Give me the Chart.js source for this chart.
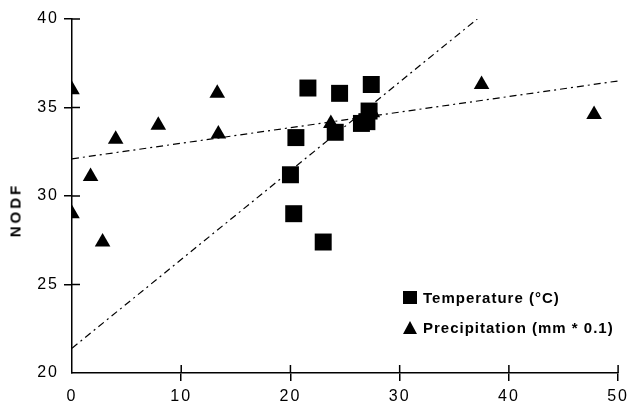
<!DOCTYPE html>
<html>
<head>
<meta charset="utf-8">
<script src="https://cdn.jsdelivr.net/npm/chart.js@4.4.1/dist/chart.umd.min.js"></script>
<style>
    body { margin: 0; background: #fff; }
    #wrap { position: relative; width: 633px; height: 407px; font-family: "Liberation Sans", Arial, sans-serif; }
    #ytitle {
        position: absolute; left: 15px; top: 210px;
        transform: translate(-50%, -50%) rotate(-90deg);
        font-weight: bold; font-size: 15px; letter-spacing: 3px; color: #000; white-space: nowrap;
    }
    .leg { position: absolute; left: 403px; height: 16px; display: flex; align-items: center; }
    .leg span { font-weight: bold; font-size: 15px; letter-spacing: 1px; color: #000; margin-left: 6px; white-space: nowrap; }
    .sq { width: 14px; height: 13px; background: #000; }
    .tri { width: 0; height: 0; border-left: 7px solid transparent; border-right: 7px solid transparent; border-bottom: 13px solid #000; }
</style>
</head>
<body>
<div id="wrap">
    <canvas id="chart" width="633" height="407"></canvas>
    <div id="ytitle">NODF</div>
    <div class="leg" style="top:289px;"><div class="sq"></div><span>Temperature (°C)</span></div>
    <div class="leg" style="top:319px;"><div class="tri"></div><span>Precipitation (mm * 0.1)</span></div>
</div>
<script>
// datos
const tempX = [20.0, 20.3, 20.5, 21.6, 23.0, 24.1, 24.5, 26.5, 27.0, 27.2, 27.4];
const tempY = [31.2, 29.0, 33.3, 36.1, 27.4, 33.6, 35.8, 34.1, 34.2, 34.8, 36.3];

const precX = [0, 0, 1.7, 2.8, 4.0, 7.9, 13.3, 13.4, 23.7, 27.5, 37.5, 47.8];
const precY = [36.0, 29.0, 31.1, 27.4, 33.2, 34.0, 35.8, 33.5, 34.1, 34.7, 36.3, 34.6];

// rectas de ajuste (extremos)
const tempFitX = [0, 37.1];
const tempFitY = [21.4, 40];
const precFitX = [0, 50];
const precFitY = [32.1, 36.5];

const xTicks = [0, 10, 20, 30, 40, 50];
const yTicks = [20, 25, 30, 35, 40];

const toPoints = (xs, ys) => xs.map((x, i) => ({ x: x, y: ys[i] }));

Chart.defaults.font.family = '"Liberation Sans", Arial, sans-serif';
Chart.defaults.color = '#000';

// marcas que cruzan el eje (parte interior)
const innerTicks = {
    id: 'innerTicks',
    beforeDraw(chart) {
        chart.ctx.letterSpacing = '2px';
    },
    afterDraw(chart) {
        const ctx = chart.ctx;
        const xs = chart.scales.x, ys = chart.scales.y;
        ctx.save();
        ctx.strokeStyle = '#000';
        ctx.lineWidth = 1.5;
        ctx.beginPath();
        xTicks.slice(1).forEach(v => {
            const px = xs.getPixelForValue(v);
            ctx.moveTo(px, ys.bottom);
            ctx.lineTo(px, ys.bottom - 8);
        });
        yTicks.slice(1).forEach(v => {
            const py = ys.getPixelForValue(v);
            ctx.moveTo(xs.left, py);
            ctx.lineTo(xs.left + 8, py);
        });
        ctx.stroke();
        ctx.restore();
    }
};

const tickColor = (c) => (c.tick && c.index === 0) ? 'rgba(0,0,0,0)' : '#000';

new Chart(document.getElementById('chart'), {
    type: 'scatter',
    data: {
        datasets: [
            {
                label: 'Temperature (°C)',
                data: toPoints(tempX, tempY),
                pointStyle: 'rect',
                pointRadius: 12,
                backgroundColor: '#000',
                borderWidth: 0
            },
            {
                label: 'Precipitation (mm * 0.1)',
                data: toPoints(precX, precY),
                pointStyle: 'triangle',
                pointRadius: 9,
                backgroundColor: '#000',
                borderWidth: 0
            },
            {
                type: 'line',
                data: toPoints(tempFitX, tempFitY),
                borderColor: '#000',
                borderWidth: 1.2,
                borderDash: [7, 4, 2, 4],
                pointRadius: 0,
                fill: false
            },
            {
                type: 'line',
                data: toPoints(precFitX, precFitY),
                borderColor: '#000',
                borderWidth: 1.2,
                borderDash: [7, 4, 2, 4],
                pointRadius: 0,
                fill: false
            }
        ]
    },
    options: {
        responsive: false,
        animation: false,
        layout: { padding: { top: 19, right: 11, left: 0, bottom: 0 } },
        plugins: { legend: { display: false }, tooltip: { enabled: false } },
        scales: {
            x: {
                type: 'linear',
                min: 0, max: 50,
                afterBuildTicks: (s) => { s.ticks = xTicks.map(v => ({ value: v })); },
                afterFit: (s) => { s.height = 34; },
                ticks: { font: { size: 16 }, padding: 6, color: '#000', maxRotation: 0 },
                grid: { drawOnChartArea: false, drawTicks: true, tickLength: 8, color: tickColor, lineWidth: 1.5 },
                border: { color: '#000', width: 1.5 }
            },
            y: {
                min: 20, max: 40,
                afterBuildTicks: (s) => { s.ticks = yTicks.map(v => ({ value: v })); },
                afterFit: (s) => { s.width = 72; },
                ticks: { font: { size: 16 }, padding: 5, color: '#000' },
                grid: { drawOnChartArea: false, drawTicks: true, tickLength: 8, color: tickColor, lineWidth: 1.5 },
                border: { color: '#000', width: 1.5 }
            }
        }
    },
    plugins: [innerTicks]
});
</script>
</body>
</html>
